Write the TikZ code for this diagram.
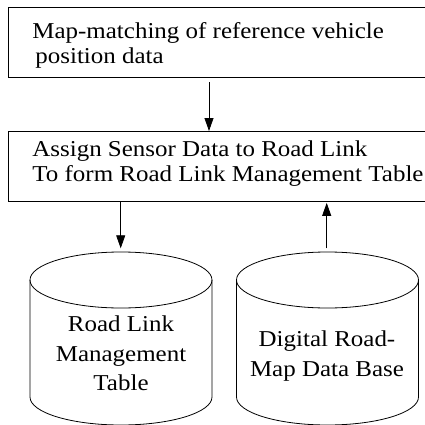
\documentclass[tikz,border=0pt]{standalone}
\usepackage{fontspec}
\setmainfont[FakeStretch=1.1]{Liberation Serif}
\usetikzlibrary{arrows.meta}
\begin{document}
\begin{tikzpicture}[x=1pt,y=-1pt,line width=0.8pt,
  box/.style={draw,rectangle,inner sep=0pt,anchor=north west},
  lbl/.style={anchor=base west,inner sep=0pt,font=\fontsize{22.7}{27}\selectfont},
  clbl/.style={anchor=base,inner sep=0pt,font=\fontsize{22.7}{27}\selectfont},
  arr/.style={-{Triangle[length=13pt,width=9pt]}}]
\useasboundingbox (0,0) rectangle (425,425);
% boxes
\node[box,minimum width=424pt,minimum height=70pt] (b1) at (8,7) {};
\node[box,minimum width=424pt,minimum height=69.5pt] (b2) at (7.5,131) {};
\node[lbl] (t1) at (32,38.3) {Map-matching of reference vehicle};
\node[lbl] (t2) at (35,63.5) {position data};
\node[lbl] (t3) at (32,156.7) {Assign Sensor Data to Road Link};
\node[lbl] (t4) at (32,181.7) {To form Road Link Management Table};
% cylinders
\draw (121,280) ellipse [x radius=91pt,y radius=28pt];
\draw (30,280) -- (30,397) arc[start angle=180,end angle=360,x radius=91pt,y radius=28pt] -- (212,280);
\draw (327.5,280) ellipse [x radius=91pt,y radius=28pt];
\draw (236.5,280) -- (236.5,397) arc[start angle=180,end angle=360,x radius=91pt,y radius=28pt] -- (418.5,280);
\coordinate (c1) at (120.7,251.7);
\coordinate (c2) at (326.7,251.7);
\node[clbl] (l1) at (121,331.7) {Road Link};
\node[clbl] (l2) at (121,361.2) {Management};
\node[clbl] (l3) at (121,390.5) {Table};
\node[clbl] (r1) at (327,346.7) {Digital Road-};
\node[clbl] (r2) at (327,376.2) {Map Data Base};
% arrows
\coordinate (a1) at (209,0);
\draw[arr] ([yshift=-4.7pt]b1.south -| a1) -- (b2.north -| a1);
\draw[arr] (b2.south -| c1) -- ([yshift=3.4pt]c1);
\draw[arr] ([yshift=3.4pt]c2) -- ([yshift=-1.6pt]b2.south -| c2);
\end{tikzpicture}
\end{document}
